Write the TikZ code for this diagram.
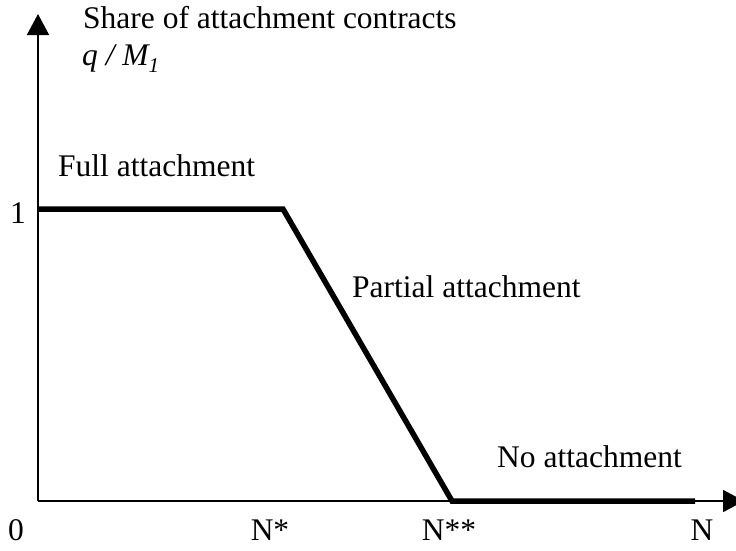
\documentclass[tikz,border=0pt]{standalone}
\usepackage{fontspec}
\setmainfont{Liberation Serif}
\usetikzlibrary{arrows.meta}
\begin{document}
\begin{tikzpicture}[x=1pt,y=-1pt,
  lbl/.style={inner sep=0pt,font=\fontsize{31.5}{38}\selectfont},
  axis/.style={line width=1.8pt,-{Triangle[length=21pt,width=22pt]}},
  curve/.style={line width=5.5pt,line join=miter}]
\useasboundingbox (0,0) rectangle (736,550);
\coordinate (O) at (38,501);
\coordinate (Ytop) at (38,14);
\coordinate (Xend) at (744,501);
\coordinate (P1) at (38,209);
\coordinate (P2) at (283,209);
\coordinate (P3) at (452,501);
\coordinate (P4) at (695,501);
\draw[axis] (O) -- (Ytop);
\draw[axis] (O) -- (Xend);
\draw[curve] (P1) -- (P2) -- (P3) -- (P4);
\node[lbl,anchor=base west] (share) at (83,28) {Share of attachment contracts};
\node[lbl,anchor=base west] (qm) at (82,65) {\itshape q / M\raisebox{-7pt}{\fontsize{21}{21}\selectfont 1}};
\node[lbl,anchor=base west] (full) at (58,176) {Full attachment};
\node[lbl,anchor=base west] (one) at (10,223) {1};
\node[lbl,anchor=base west] (partial) at (352,297) {Partial attachment};
\node[lbl,anchor=base west] (none) at (497,467) {No attachment};
\node[lbl,anchor=base] (zero) at (16,540) {0};
\node[lbl,anchor=base] (nstar) at (270,540) {N*};
\node[lbl,anchor=base] (nstarstar) at (449,540) {N**};
\node[lbl,anchor=base] (nn) at (702,540) {N};
\end{tikzpicture}
\end{document}
